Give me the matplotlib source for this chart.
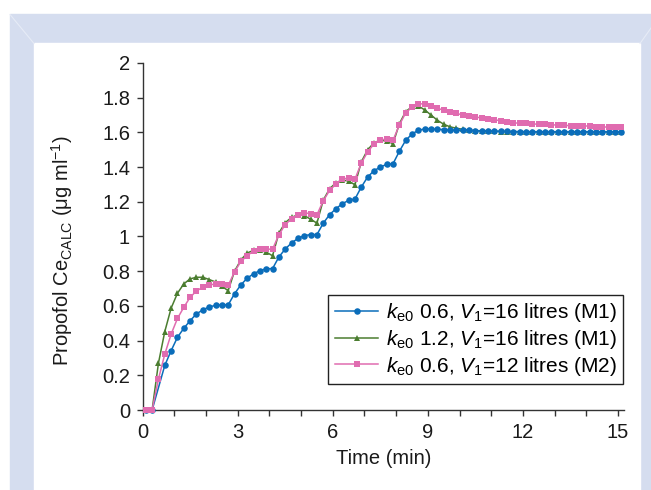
import numpy as np
import matplotlib
matplotlib.use("Agg")
import matplotlib.pyplot as plt
from matplotlib.patches import Rectangle
from matplotlib.lines import Line2D

plt.rcParams['font.family'] = ['Liberation Sans', 'DejaVu Sans']
plt.rcParams['mathtext.fontset'] = 'custom'
plt.rcParams['mathtext.rm'] = 'Liberation Sans'
plt.rcParams['mathtext.it'] = 'Liberation Sans:italic'
plt.rcParams['font.size'] = 14.5

# Time grid (min): samples every 0.2 min from 0.1 to 15.1
time_min = np.round(np.arange(0.1, 15.2, 0.2), 1)

# ke0 0.6, V1=16 litres (M1)  -- one sample (0.5 min) not plotted in the original
ce_m1_ke06 = [
    0, 0, np.nan, 0.257, 0.342,
    0.419, 0.471, 0.515, 0.554, 0.577,
    0.594, 0.603, 0.606, 0.606, 0.670,
    0.721, 0.760, 0.785, 0.803, 0.814,
    0.815, 0.882, 0.928, 0.963, 0.989,
    1.005, 1.011, 1.011, 1.077, 1.126,
    1.160, 1.189, 1.208, 1.216, 1.285,
    1.343, 1.379, 1.400, 1.416, 1.419,
    1.491, 1.554, 1.591, 1.612, 1.620,
    1.620, 1.618, 1.616, 1.614, 1.613,
    1.612, 1.611, 1.610, 1.609, 1.608,
    1.607, 1.606, 1.606, 1.605, 1.605,
    1.604, 1.604, 1.604, 1.604, 1.604,
    1.604, 1.604, 1.604, 1.604, 1.604,
    1.604, 1.604, 1.604, 1.604, 1.604,
    1.604,
]

# ke0 1.2, V1=16 litres (M1)
ce_m1_ke12 = [
    0, 0, 0.270, 0.452, 0.587,
    0.673, 0.727, 0.756, 0.765, 0.765,
    0.752, 0.738, 0.713, 0.688, 0.800,
    0.865, 0.905, 0.920, 0.920, 0.910,
    0.889, 1.020, 1.080, 1.110, 1.125,
    1.120, 1.100, 1.077, 1.210, 1.275,
    1.310, 1.325, 1.320, 1.298, 1.430,
    1.500, 1.540, 1.555, 1.550, 1.535,
    1.650, 1.720, 1.748, 1.752, 1.730,
    1.700, 1.670, 1.647, 1.632, 1.624,
    1.618, 1.613, 1.610, 1.608, 1.607,
    1.606, 1.605, 1.604, 1.604, 1.603,
    1.603, 1.603, 1.603, 1.603, 1.603,
    1.603, 1.603, 1.603, 1.603, 1.603,
    1.603, 1.603, 1.603, 1.603, 1.603,
    1.603,
]

# ke0 0.6, V1=12 litres (M2)
ce_m2_ke06 = [
    0, 0, 0.178, 0.322, 0.437,
    0.528, 0.592, 0.650, 0.686, 0.708,
    0.720, 0.727, 0.724, 0.718, 0.796,
    0.856, 0.889, 0.917, 0.927, 0.927,
    0.927, 1.010, 1.069, 1.102, 1.123,
    1.137, 1.131, 1.125, 1.206, 1.266,
    1.302, 1.331, 1.337, 1.331, 1.423,
    1.488, 1.533, 1.556, 1.562, 1.554,
    1.643, 1.712, 1.746, 1.764, 1.765,
    1.752, 1.739, 1.728, 1.716, 1.710,
    1.700, 1.694, 1.689, 1.683, 1.677,
    1.673, 1.667, 1.662, 1.656, 1.652,
    1.652, 1.648, 1.648, 1.648, 1.643,
    1.643, 1.643, 1.637, 1.637, 1.637,
    1.637, 1.631, 1.631, 1.631, 1.631,
    1.631,
]

labels = [
    r"$k_\mathrm{e0}$ 0.6, $V_1$=16 litres (M1)",
    r"$k_\mathrm{e0}$ 1.2, $V_1$=16 litres (M1)",
    r"$k_\mathrm{e0}$ 0.6, $V_1$=12 litres (M2)",
]

x_ticks = [0, 3, 6, 9, 12, 15]
y_ticks = [0, 0.2, 0.4, 0.6, 0.8, 1, 1.2, 1.4, 1.6, 1.8, 2]
y_ticklabels = ["0", "0.2", "0.4", "0.6", "0.8", "1", "1.2", "1.4", "1.6", "1.8", "2"]

fig = plt.figure(figsize=(6.51, 4.9), dpi=100)
fig.patch.set_facecolor('white')

# lavender frame with white panel
frame_col = '#d5ddef'
fig.patches.append(Rectangle((10 / 651, 0), 1, (490 - 14.5) / 490,
                             transform=fig.transFigure, color=frame_col, zorder=-10))
fig.patches.append(Rectangle((34 / 651, 0), (640 - 34) / 651, (490 - 43.5) / 490,
                             transform=fig.transFigure, color='white', zorder=-9))
fig.lines.append(Line2D([10 / 651, 34 / 651], [(490 - 14.5) / 490, (490 - 43.5) / 490],
                        transform=fig.transFigure, color='#e6ebf6', lw=0.8, zorder=-8))
fig.lines.append(Line2D([651 / 651, 640 / 651], [(490 - 28) / 490, (490 - 43.5) / 490],
                        transform=fig.transFigure, color='#e6ebf6', lw=0.8, zorder=-8))

ax = fig.add_axes([142.6 / 651, 80 / 490, 481.8 / 651, 347 / 490])
ax.set_facecolor('none')

blue = np.array(ce_m1_ke06)
ok = ~np.isnan(blue)
ax.plot(time_min[ok], blue[ok], color='#0a6dba', lw=1.1, marker='o', ms=4.7,
        mew=0, label=labels[0], zorder=3, clip_on=False)
ax.plot(time_min, ce_m1_ke12, color='#4b7d30', lw=1.1, marker='^', ms=4.9,
        mew=0, label=labels[1], zorder=2, clip_on=False)
ax.plot(time_min, ce_m2_ke06, color='#e06cb0', lw=1.1, marker='s', ms=4.3,
        mew=0, label=labels[2], zorder=4, clip_on=False)

ax.set_xlim(0, 15.2)
ax.set_ylim(0, 2)
ax.set_xticks(x_ticks)
ax.set_xticks(range(0, 16), minor=True)
ax.set_yticks(y_ticks)
ax.set_yticklabels(y_ticklabels)

for side in ['top', 'right']:
    ax.spines[side].set_visible(False)
for side in ['left', 'bottom']:
    ax.spines[side].set_color('#333333')
    ax.spines[side].set_linewidth(1.0)

ax.tick_params(axis='both', which='both', direction='out', length=4, width=1.0,
               color='#333333', labelcolor='#1a1a1a', labelsize=14.5)
ax.tick_params(axis='x', which='both', pad=5.5)
ax.tick_params(axis='y', pad=5)

ax.set_xlabel("Time (min)", fontsize=14.5, color='#1a1a1a', labelpad=5)
ax.set_ylabel(r"Propofol Ce$_\mathrm{CALC}$ ($\mathrm{\mu}$g ml$^{-1}$)",
              fontsize=14.5, color='#1a1a1a')
ax.yaxis.set_label_coords(-0.14, 0.458)

leg = ax.legend(loc='lower right', bbox_to_anchor=(0.997, 0.075), borderaxespad=0,
                frameon=True, fancybox=False, edgecolor='#222222', framealpha=1,
                numpoints=1, handlelength=2.1, handletextpad=0.35,
                borderpad=0.3, labelspacing=0.18, fontsize=15)
leg.get_frame().set_linewidth(1.0)

fig.savefig("out.png", dpi=100, facecolor='white')
